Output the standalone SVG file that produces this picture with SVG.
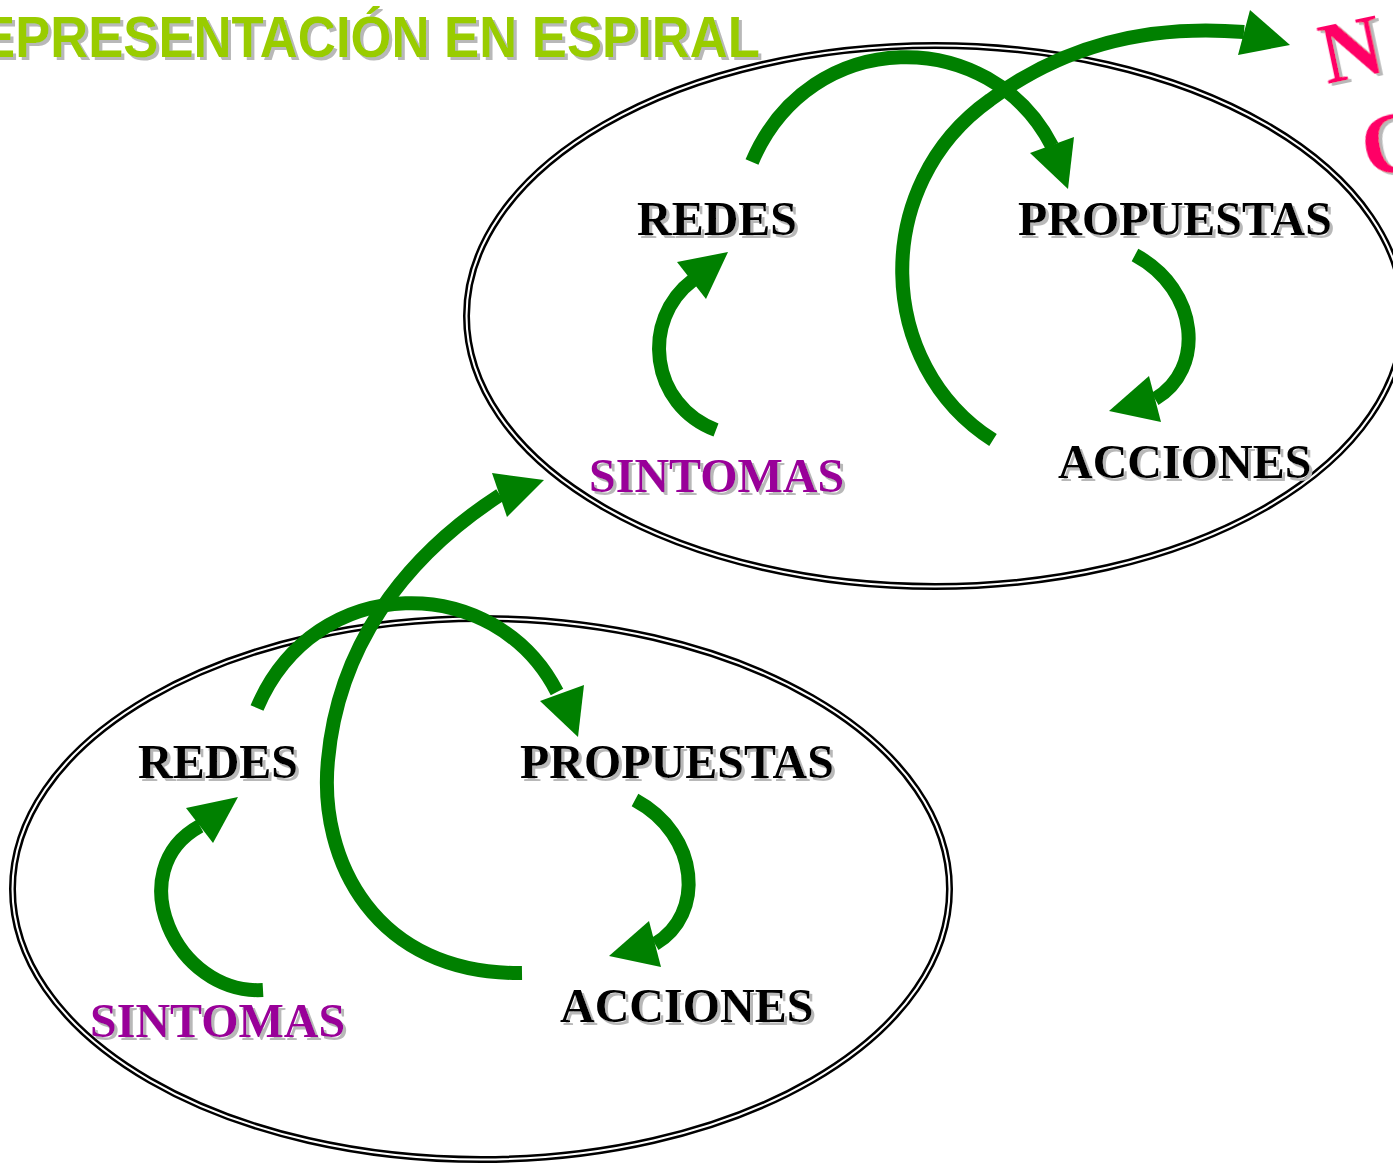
<svg xmlns="http://www.w3.org/2000/svg" width="1393" height="1163" viewBox="0 0 1393 1163">
<defs>
<filter id="sh" x="-10%" y="-20%" width="130%" height="150%">
<feFlood flood-color="#b8b8b8"/>
<feComposite in2="SourceAlpha" operator="in"/>
<feOffset dx="3" dy="3" result="s"/>
<feMerge><feMergeNode in="s"/><feMergeNode in="SourceGraphic"/></feMerge>
</filter>
</defs>
<style>
.ell-o{fill:none;stroke:#000;stroke-width:7}
.ell-i{fill:none;stroke:#fff;stroke-width:2}
.arc{fill:none;stroke:#008000;stroke-width:14}
.head{fill:#008000}
.lbl{font-family:"Liberation Serif","Times New Roman",serif;font-weight:bold;font-size:48px;fill:#000;filter:url(#sh)}
.sin{fill:#990099}
.title{font-family:"Liberation Sans",Arial,sans-serif;font-weight:bold;font-size:57px;fill:#99CC00;filter:url(#sh)}
.pink{font-family:"Liberation Serif","Times New Roman",serif;font-weight:bold;font-size:86px;fill:#FF0066;filter:url(#sh)}
</style>
<rect width="1393" height="1163" fill="#fff"/>

<g id="title">
<text class="title" x="-58" y="57" textLength="818" lengthAdjust="spacingAndGlyphs">REPRESENTACIÓN EN ESPIRAL</text>
</g>

<g id="ellipse-top">
<ellipse class="ell-o" cx="935" cy="316" rx="468.5" ry="270.5"/>
<ellipse class="ell-i" cx="935" cy="316" rx="468.5" ry="270.5"/>
</g>
<g id="ellipse-bottom">
<ellipse class="ell-o" cx="481" cy="889" rx="468.5" ry="270.5"/>
<ellipse class="ell-i" cx="481" cy="889" rx="468.5" ry="270.5"/>
</g>

<g id="nuevo-ciclo">
<text class="pink" transform="translate(1327,84) rotate(-12)">N</text>
<text class="pink" transform="translate(1368,178) rotate(-12)">C</text>
</g>

<g id="connectors">
<!-- top ellipse -->
<path class="arc" d="M752,162 C810,25 990,25 1052,146"/>
<polygon class="head" points="1030,153 1074,137 1068,189"/>
<path class="arc" d="M716,430 C650,405 640,320 693,280"/>
<polygon class="head" points="677,262 728,252 706,299"/>
<path class="arc" d="M1135,255 C1200,290 1205,370 1155,399"/>
<polygon class="head" points="1149,376 1161,422 1109,411"/>
<path class="arc" d="M993,440 C875,365 870,185 990,100 C1070,40 1160,25 1244,32"/>
<polygon class="head" points="1250,10 1290,45 1238,55"/>
<!-- bottom ellipse -->
<path class="arc" d="M257,708 C315,571 495,571 557,692"/>
<polygon class="head" points="540,701 584,685 578,737"/>
<path class="arc" d="M263,990 C175,995 120,870 200,826"/>
<polygon class="head" points="186,808 238,797 213,843"/>
<path class="arc" d="M635,800 C700,835 705,915 655,944"/>
<polygon class="head" points="649,921 661,967 609,956"/>
<path class="arc" d="M522,973 C375,975 318,860 328,760 C338,650 400,560 500,495"/>
<polygon class="head" points="492,473 544,480 507,517"/>
</g>

<g id="top-redes"><text class="lbl" x="637" y="235">REDES</text></g>
<g id="top-propuestas"><text class="lbl" x="1018" y="235">PROPUESTAS</text></g>
<g id="top-sintomas"><text class="lbl sin" x="589" y="492">SINTOMAS</text></g>
<g id="top-acciones"><text class="lbl" x="1058" y="478">ACCIONES</text></g>
<g id="bottom-redes"><text class="lbl" x="138" y="778">REDES</text></g>
<g id="bottom-propuestas"><text class="lbl" x="520" y="778">PROPUESTAS</text></g>
<g id="bottom-sintomas"><text class="lbl sin" x="90" y="1037">SINTOMAS</text></g>
<g id="bottom-acciones"><text class="lbl" x="560" y="1022">ACCIONES</text></g>
</svg>
